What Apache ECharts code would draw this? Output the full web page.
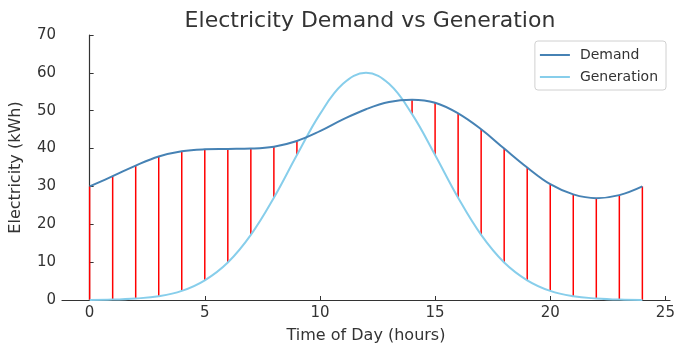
<!DOCTYPE html>
<html>
<head>
<meta charset="utf-8">
<script src="https://cdn.jsdelivr.net/npm/echarts@6/dist/echarts.min.js"></script>
<style>
  html, body { margin: 0; padding: 0; background: #fff; }
  #chart { width: 688px; height: 354px; }
</style>
</head>
<body>
<div id="chart"></div>
<script>
// hours of the day
const hours = [0, 1, 2, 3, 4, 5, 6, 7, 8, 9, 10, 11, 12, 13, 14, 15, 16, 17, 18, 19, 20, 21, 22, 23, 24];
const demand = [30.0, 32.7, 35.5, 37.9, 39.3, 39.8, 39.9, 40.0, 40.5, 42.0, 44.6, 47.7, 50.4,
  52.3, 52.9, 52.1, 49.3, 45.1, 40.0, 35.0, 30.6, 27.9, 26.9, 27.7, 30.0];
const generation = [0.0, 0.1, 0.4, 1.0, 2.4, 5.2, 9.9, 17.2, 27.0, 38.3, 49.1, 57.1, 60.0,
  57.1, 49.1, 38.3, 27.0, 17.2, 9.9, 5.2, 2.4, 1.0, 0.4, 0.1, 0.0];
const xTicks = [0, 5, 10, 15, 20, 25];

const font = "DejaVu Sans";
const axisColor = "#333";

let demandData = [];
let genData = [];
let gapData = [];
for (let i = 0; i < hours.length; i++) {
  demandData.push([hours[i], demand[i]]);
  genData.push([hours[i], generation[i]]);
  // red lines only where demand is above generation
  if (demand[i] > generation[i]) {
    gapData.push([hours[i], generation[i], demand[i]]);
  }
}

let myChart = echarts.init(document.getElementById("chart"));
let option = {
  animation: false,
  textStyle: { fontFamily: font },
  title: {
    text: "Electricity Demand vs Generation",
    left: 365,
    textAlign: "center",
    top: 5,
    textStyle: { fontFamily: font, fontSize: 22, fontWeight: "normal", color: "#333" },
  },
  legend: {
    orient: "vertical",
    right: 22,
    top: 41,
    data: ["Demand", "Generation"],
    icon: "rect",
    itemWidth: 30,
    itemHeight: 2,
    itemGap: 8,
    padding: [7, 8, 6, 5],
    borderColor: "#d0d0d0",
    borderWidth: 1,
    borderRadius: 3,
    textStyle: { fontFamily: font, fontSize: 14, color: "#333", padding: [0, 0, 0, 5] },
  },
  grid: { left: 60, right: 18, top: 35, bottom: 54 },
  xAxis: {
    type: "value",
    min: -1.2,
    max: 25.2,
    name: "Time of Day (hours)",
    nameLocation: "middle",
    nameGap: 28,
    nameTextStyle: { fontFamily: font, fontSize: 16, color: "#333" },
    axisLine: { lineStyle: { color: axisColor, width: 1.2 } },
    axisTick: { show: true, inside: true, length: 4, customValues: xTicks, lineStyle: { color: axisColor } },
    axisLabel: { customValues: xTicks, fontFamily: font, fontSize: 15, color: "#333", margin: 6 },
    splitLine: { show: false },
  },
  yAxis: {
    type: "value",
    min: 0,
    max: 70,
    interval: 10,
    name: "Electricity (kWh)",
    nameLocation: "middle",
    nameGap: 38,
    nameTextStyle: { fontFamily: font, fontSize: 16, color: "#333" },
    axisLine: { show: true, lineStyle: { color: axisColor, width: 1.2 } },
    axisTick: { show: true, inside: true, length: 4, lineStyle: { color: axisColor } },
    axisLabel: { fontFamily: font, fontSize: 15, color: "#333", margin: 6 },
    splitLine: { show: false },
  },
  series: [
    {
      name: "gap",
      type: "custom",
      data: gapData,
      z: 1,
      renderItem: function (params, api) {
        let p1 = api.coord([api.value(0), api.value(1)]);
        let p2 = api.coord([api.value(0), api.value(2)]);
        return {
          type: "line",
          shape: { x1: p1[0], y1: p1[1], x2: p2[0], y2: p2[1] },
          style: { stroke: "#ff0000", lineWidth: 1.5 },
        };
      },
    },
    {
      name: "Demand",
      type: "line",
      data: demandData,
      smooth: 0.4,
      showSymbol: false,
      z: 3,
      color: "#4682b4",
      lineStyle: { color: "#4682b4", width: 2 },
    },
    {
      name: "Generation",
      type: "line",
      data: genData,
      smooth: 0.4,
      showSymbol: false,
      z: 2,
      color: "#87ceeb",
      lineStyle: { color: "#87ceeb", width: 2 },
    },
  ],
};
myChart.setOption(option);
</script>
</body>
</html>
